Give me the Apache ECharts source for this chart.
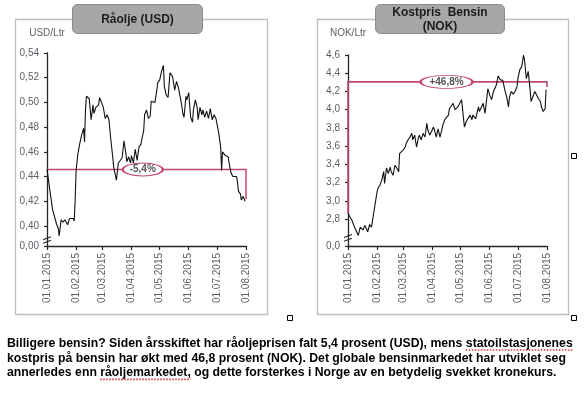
<!DOCTYPE html>
<html><head><meta charset="utf-8">
<script src="https://cdn.jsdelivr.net/npm/echarts@6/dist/echarts.min.js"></script>
<style>html,body{margin:0;padding:0;background:#fff;}#c{width:585px;height:396px;}</style>
</head><body><div id="c"></div>
<script>
// ---------- data ----------
const monthLabels = ['01.01.2015','01.02.2015','01.03.2015','01.04.2015','01.05.2015','01.06.2015','01.07.2015','01.08.2015'];

// Råolje (USD/Ltr): day offset from 01.01.2015 and value
const oilDays = [0,3,6,8,10,12,13,15,17,19,22,24,26,28,29,30,31,33,35,37,39,40,41,42,44,45,47,49,50,52,55,56,58,60,62,64,66,68,70,71,74,76,78,80,82,84,85,87,89,90,92,94,96,98,100,101,103,104,106,108,110,111,113,115,117,118,120,122,124,125,127,129,131,133,134,136,138,140,141,143,145,146,148,149,151,153,155,156,158,160,161,163,165,166,168,170,172,174,176,178,180,182,183,185,186,187,188,190,191,193,194,196,198,200,202,203,204,206,207,209,211];
const oilValues = [0.446,0.429,0.413,0.414,0.402,0.398,0.392,0.405,0.403,0.405,0.401,0.406,0.405,0.406,0.404,0.421,0.445,0.459,0.467,0.474,0.479,0.468,0.494,0.505,0.505,0.503,0.486,0.498,0.491,0.496,0.498,0.504,0.500,0.496,0.487,0.490,0.486,0.470,0.456,0.448,0.437,0.451,0.453,0.455,0.469,0.459,0.452,0.456,0.451,0.457,0.451,0.462,0.453,0.464,0.466,0.470,0.477,0.490,0.494,0.487,0.489,0.501,0.502,0.500,0.510,0.516,0.518,0.525,0.530,0.513,0.506,0.504,0.524,0.522,0.520,0.510,0.517,0.512,0.508,0.500,0.490,0.488,0.505,0.502,0.508,0.488,0.484,0.494,0.502,0.496,0.486,0.496,0.490,0.494,0.488,0.493,0.487,0.495,0.486,0.490,0.487,0.488,0.475,0.464,0.445,0.460,0.459,0.457,0.456,0.456,0.451,0.443,0.440,0.440,0.440,0.435,0.428,0.426,0.421,0.424,0.420];
const oilTicks = [0.40,0.42,0.44,0.46,0.48,0.50,0.52,0.54];
const oilBreakValue = 0.3838;          // shown as "0,00" (broken axis)
const oilBreakLabel = '0,00';
const oilRef = 0.4457, oilEnd = 0.4217, oilChangeLabel = '-5,4%', oilLabelDay = 102;

// Kostpris Bensin (NOK/Ltr)
const fuelDays = [0,4,7,11,13,16,18,21,23,25,27,29,31,32,34,36,38,39,41,43,45,46,48,50,52,54,55,57,59,61,62,64,66,68,69,71,73,75,76,78,80,82,84,85,87,89,91,92,94,96,98,100,101,103,105,107,108,112,114,117,121,123,124,126,130,132,133,136,139,140,142,144,146,149,151,153,155,158,160,162,164,165,167,169,171,172,174,176,178,180,181,183,185,187,188,190,192,194,195,197,199,201,203,205,206,208,210,211];
const fuelValues = [2.86,2.79,2.71,2.62,2.71,2.68,2.73,2.66,2.74,2.71,2.84,2.97,3.10,3.14,3.17,3.23,3.32,3.19,3.36,3.30,3.37,3.32,3.28,3.39,3.36,3.32,3.52,3.54,3.56,3.59,3.63,3.67,3.70,3.74,3.67,3.72,3.59,3.69,3.72,3.67,3.74,3.70,3.85,3.78,3.72,3.76,3.81,3.78,3.70,3.79,3.70,3.78,3.83,3.89,3.90,3.94,4.01,4.07,4.00,4.03,4.11,4.09,3.81,3.87,3.94,3.89,3.94,3.90,4.03,3.98,3.96,4.07,3.96,4.23,4.16,4.11,4.20,4.27,4.37,4.33,4.31,4.32,4.22,4.14,4.03,4.14,4.20,4.17,4.20,4.25,4.34,4.44,4.47,4.60,4.55,4.34,4.42,4.22,4.09,4.11,4.20,4.22,4.12,4.09,4.03,3.98,4.01,4.22];
const fuelTicks = [2.8,3.0,3.2,3.4,3.6,3.8,4.0,4.2,4.4,4.6];
const fuelBreakValue = 2.504;          // shown as "0,0" (broken axis)
const fuelBreakLabel = '0,0';
const fuelRef = 4.305, fuelEnd = 4.25, fuelChangeLabel = '+46,8%', fuelLabelDay = 105;

const caption = [
  'Billigere bensin? Siden årsskiftet har råoljeprisen falt 5,4 prosent (USD), mens statoilstasjonenes',
  'kostpris på bensin har økt med 46,8 prosent (NOK). Det globale bensinmarkedet har utviklet seg',
  'annerledes enn råoljemarkedet, og dette forsterkes i Norge av en betydelig svekket kronekurs.'
];
const spellMarked = [[0, 'statoilstasjonenes'], [2, 'råoljemarkedet,']];

// ---------- helpers ----------
const DAY = 86400000;
const T0 = Date.UTC(2015, 0, 1);
const toTs = d => T0 + d * DAY;
const parseLabel = s => { const p = s.split('.'); return Date.UTC(+p[2], +p[1] - 1, +p[0]); };
const monthTs = monthLabels.map(parseLabel);
const fmtDate = v => { const d = new Date(v); const z = n => (n < 10 ? '0' : '') + n; return z(d.getUTCDate()) + '.' + z(d.getUTCMonth() + 1) + '.' + d.getUTCFullYear(); };

const RED = '#c4476e';
const AX = '#262626';
const LBL = '#5b5f66';
const FONT = '"Liberation Sans", Arial, sans-serif';

function xAxis(gi) {
  return {
    type: 'value', gridIndex: gi, min: monthTs[0], max: monthTs[monthTs.length - 1],
    axisLine: { show: true, lineStyle: { color: AX, width: 1.3 } },
    axisTick: { show: true, length: 4, customValues: monthTs, lineStyle: { color: AX, width: 1.2 } },
    axisLabel: { customValues: monthTs, rotate: 90, margin: 7, fontSize: 10, color: LBL, fontFamily: FONT,
      formatter: v => fmtDate(v), hideOverlap: false, showMinLabel: true, showMaxLabel: true },
    splitLine: { show: false }
  };
}
function yAxis(gi, ticks, breakVal, breakLbl, dec, name, gap) {
  const vals = [breakVal].concat(ticks);
  return {
    type: 'value', gridIndex: gi, min: breakVal, max: ticks[ticks.length - 1],
    name: name, nameLocation: 'end', nameGap: gap,
    nameTextStyle: { fontSize: 10, color: LBL, fontFamily: FONT, align: 'center' },
    axisLine: { show: true, lineStyle: { color: AX, width: 1.3 } },
    axisTick: { show: true, length: 3, customValues: vals, lineStyle: { color: AX, width: 1.2 } },
    axisLabel: { customValues: vals, margin: 8, fontSize: 10, color: LBL, fontFamily: FONT,
      formatter: v => Math.abs(v - breakVal) < 1e-6 ? breakLbl : v.toFixed(dec).replace('.', ',') },
    splitLine: { show: false }
  };
}

const chart = echarts.init(document.getElementById('c'), null, { renderer: 'canvas' });

// fit caption font to the line width in the reference
const ctx = document.createElement('canvas').getContext('2d');
ctx.font = 'bold 12px ' + FONT;
const capFs = 12 * 566 / ctx.measureText(caption[0]).width;
const capFont = 'bold ' + capFs.toFixed(2) + 'px ' + FONT;
ctx.font = capFont;
const capX = 7, capY0 = 343.5, capLH = 14.7;

const graphics = [
  { type: 'rect', shape: { x: 15.5, y: 19.5, width: 252, height: 295 }, style: { fill: 'none', stroke: '#bdbdbd', lineWidth: 1.3 }, z: 1 },
  { type: 'rect', shape: { x: 317.5, y: 19.5, width: 251, height: 295 }, style: { fill: 'none', stroke: '#bdbdbd', lineWidth: 1.3 }, z: 1 },
  { type: 'rect', shape: { x: 72.5, y: 4.5, width: 130, height: 29, r: 5 }, style: { fill: '#a7a7a7', stroke: '#8a8a8a', lineWidth: 1 }, z: 10 },
  { type: 'text', style: { x: 137.5, y: 19.5, text: 'Råolje (USD)', font: 'bold 12px ' + FONT, fill: '#1c1c1c', align: 'center', verticalAlign: 'middle' }, z: 11 },
  { type: 'rect', shape: { x: 375.5, y: 4.5, width: 129, height: 29, r: 5 }, style: { fill: '#a7a7a7', stroke: '#8a8a8a', lineWidth: 1 }, z: 10 },
  { type: 'text', style: { x: 440, y: 12.5, text: 'Kostpris  Bensin', font: 'bold 12px ' + FONT, fill: '#1c1c1c', align: 'center', verticalAlign: 'middle' }, z: 11 },
  { type: 'text', style: { x: 440, y: 26.5, text: '(NOK)', font: 'bold 12px ' + FONT, fill: '#1c1c1c', align: 'center', verticalAlign: 'middle' }, z: 11 },
  { type: 'rect', shape: { x: 571.5, y: 153.5, width: 5, height: 5 }, style: { fill: '#fff', stroke: '#000', lineWidth: 1 }, z: 12 },
  { type: 'rect', shape: { x: 287.5, y: 315.5, width: 5, height: 5 }, style: { fill: '#fff', stroke: '#000', lineWidth: 1 }, z: 12 },
  { type: 'rect', shape: { x: 571.5, y: 315.5, width: 5, height: 5 }, style: { fill: '#fff', stroke: '#000', lineWidth: 1 }, z: 12 }
];
caption.forEach((line, i) => {
  graphics.push({ type: 'text', style: { x: capX, y: capY0 + i * capLH, text: line, font: capFont, fill: '#000', align: 'left', verticalAlign: 'middle' }, z: 11 });
});
// spell-check style dotted underline
spellMarked.forEach(([li, word]) => {
  const line = caption[li];
  const idx = line.indexOf(word);
  const x1 = capX + ctx.measureText(line.slice(0, idx)).width;
  const x2 = x1 + ctx.measureText(word).width;
  const y = capY0 + li * capLH + 6.5;
  graphics.push({ type: 'line', shape: { x1: x1, y1: y, x2: x2, y2: y }, style: { stroke: '#d9343a', lineWidth: 1.6, lineDash: [1.5, 1.5] }, z: 11 });
});

const option = {
  animation: false,
  backgroundColor: '#fff',
  grid: [
    { left: 47, top: 53, width: 199, height: 193 },
    { left: 348, top: 55, width: 199, height: 191 }
  ],
  xAxis: [xAxis(0), xAxis(1)],
  yAxis: [
    yAxis(0, oilTicks, oilBreakValue, oilBreakLabel, 2, 'USD/Ltr', 15),
    yAxis(1, fuelTicks, fuelBreakValue, fuelBreakLabel, 1, 'NOK/Ltr', 17)
  ],
  series: [
    { type: 'lines', coordinateSystem: 'cartesian2d', xAxisIndex: 0, yAxisIndex: 0, polyline: true, zlevel: 1, z: 3, clip: false,
      symbol: ['none', 'arrow'], symbolSize: 7,
      lineStyle: { color: RED, width: 1.5, opacity: 1 },
      data: [{ coords: [[monthTs[0], oilRef], [monthTs[7], oilRef], [monthTs[7], oilEnd]] }] },
    { type: 'line', xAxisIndex: 0, yAxisIndex: 0, showSymbol: false, symbol: 'none', zlevel: 1, z: 4,
      lineStyle: { color: '#111', width: 1.1 },
      data: oilDays.map((d, i) => [toTs(d), oilValues[i]]) },
    { type: 'scatter', xAxisIndex: 0, yAxisIndex: 0, zlevel: 1, z: 6, symbol: 'circle', symbolSize: [40, 13],
      itemStyle: { color: '#fff', borderColor: RED, borderWidth: 1.4, opacity: 1 },
      label: { show: true, position: 'inside', formatter: oilChangeLabel, fontSize: 10, fontWeight: 'bold', color: '#555', fontFamily: FONT },
      data: [[toTs(oilLabelDay), oilRef]] },

    { type: 'lines', coordinateSystem: 'cartesian2d', xAxisIndex: 1, yAxisIndex: 1, polyline: true, zlevel: 1, z: 3, clip: false,
      symbol: ['none', 'arrow'], symbolSize: 7,
      lineStyle: { color: RED, width: 1.6, opacity: 1 },
      data: [{ coords: [[monthTs[0], fuelValues[0]], [monthTs[0], fuelRef], [monthTs[7], fuelRef], [monthTs[7], fuelEnd]] }] },
    { type: 'line', xAxisIndex: 1, yAxisIndex: 1, showSymbol: false, symbol: 'none', zlevel: 1, z: 4,
      lineStyle: { color: '#111', width: 1.1 },
      data: fuelDays.map((d, i) => [toTs(d), fuelValues[i]]) },
    { type: 'scatter', xAxisIndex: 1, yAxisIndex: 1, zlevel: 1, z: 6, symbol: 'circle', symbolSize: [52, 13],
      itemStyle: { color: '#fff', borderColor: RED, borderWidth: 1.4, opacity: 1 },
      label: { show: true, position: 'inside', formatter: fuelChangeLabel, fontSize: 10, fontWeight: 'bold', color: '#555', fontFamily: FONT },
      data: [[toTs(fuelLabelDay), fuelRef]] }
  ],
  graphic: graphics
};
chart.setOption(option);

// axis-break marks on the two y axes
function breakMark(gi, lo, hi) {
  const p = chart.convertToPixel({ gridIndex: gi }, [monthTs[0], lo + (hi - lo) * 0.3]);
  const els = [];
  [-1.8, 1.8].forEach(off => {
    els.push({ type: 'line', shape: { x1: p[0] - 4, y1: p[1] + off + 1.5, x2: p[0] + 4, y2: p[1] + off - 1.5 }, style: { stroke: AX, lineWidth: 1.1 }, z: 12 });
  });
  return els;
}
chart.setOption({ graphic: graphics.concat(breakMark(0, oilBreakValue, oilTicks[0]), breakMark(1, fuelBreakValue, fuelTicks[0])) });
</script></body></html>
